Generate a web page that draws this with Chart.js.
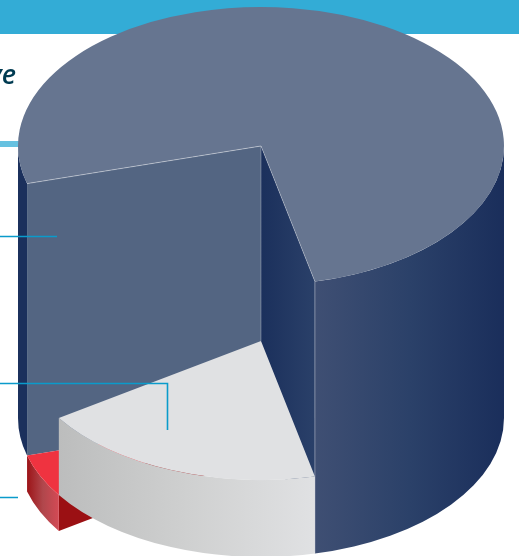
<!DOCTYPE html>
<html>
<head>
<meta charset="utf-8">
<title>3D pie</title>
<script src="https://cdn.jsdelivr.net/npm/chart.js@4"></script>
<style>
    html, body { margin: 0; padding: 0; background: #fff; overflow: hidden; }
    #wrap { position: relative; width: 519px; height: 556px; overflow: hidden; }
    #pie { position: absolute; left: 0; top: 0; }
    #cutTitle {
        position: absolute; right: 503px; top: 55px;
        font: italic 600 27px "Open Sans", sans-serif;
        color: #003b52; white-space: nowrap;
    }
</style>
</head>
<body>
<div id="wrap">
    <canvas id="pie" width="519" height="556"></canvas>
    <div id="cutTitle">ve</div>
</div>
<script>
// ==================== data ====================
const categories = ['Largest share', 'Middle share', 'Smallest share'];
const shareValues = [75.8, 19.2, 5];
const topColors = ['#667590', '#e0e1e3', '#ef3340'];

// ==================== drawing settings ====================
const TOP_Y = 146;            // y of the pie centre on the top face
const SQUASH = 139 / 243;     // ellipse ratio of the tilted disc
const FULL_DEPTH = 272;
const WHITE_DEPTH = 195;      // the middle slice is a lower step
const RED_THICKNESS = 36;     // the small slice hangs below the cylinder

const EDGE = 'rgba(255, 255, 255, 0.28)';

function hGradient(ctx, x0, x1, stops) {
    const g = ctx.createLinearGradient(x0, 0, x1, 0);
    stops.forEach((c, i) => g.addColorStop(i / (stops.length - 1), c));
    return g;
}

function point(arc, angle, depth) {
    return {
        x: arc.x + arc.outerRadius * Math.cos(angle),
        y: TOP_Y + depth + arc.outerRadius * SQUASH * Math.sin(angle)
    };
}

// outer curved wall between two angles
function outerWall(ctx, arc, a0, a1, d0, d1, fill) {
    const rx = arc.outerRadius, ry = rx * SQUASH;
    ctx.beginPath();
    ctx.ellipse(arc.x, TOP_Y + d0, rx, ry, 0, a0, a1, false);
    ctx.ellipse(arc.x, TOP_Y + d1, rx, ry, 0, a1, a0, true);
    ctx.closePath();
    ctx.fillStyle = fill;
    ctx.fill();
}

// flat wall running from the centre out to the rim
function radialWall(ctx, arc, angle, d0, d1, fill) {
    const p = point(arc, angle, 0);
    ctx.beginPath();
    ctx.moveTo(arc.x, TOP_Y + d0);
    ctx.lineTo(p.x, p.y + d0);
    ctx.lineTo(p.x, p.y + d1);
    ctx.lineTo(arc.x, TOP_Y + d1);
    ctx.closePath();
    ctx.fillStyle = fill;
    ctx.fill();
}

// top face: the library's own arc, squashed into an ellipse
function topFace(ctx, arc, depth) {
    ctx.save();
    ctx.translate(arc.x, TOP_Y + depth);
    ctx.scale(1, SQUASH);
    ctx.translate(-arc.x, -arc.y);
    arc.draw(ctx);
    ctx.restore();
}

function edgeLine(ctx, a, b, color) {
    ctx.beginPath();
    ctx.moveTo(a.x, a.y);
    ctx.lineTo(b.x, b.y);
    ctx.strokeStyle = color || EDGE;
    ctx.lineWidth = 1;
    ctx.stroke();
}

const pageFurniture = {
    id: 'pageFurniture',
    beforeDraw(chart) {
        const ctx = chart.ctx;
        ctx.save();
        ctx.fillStyle = '#fff';
        ctx.fillRect(0, 0, chart.width, chart.height);
        ctx.fillStyle = '#33acd6';
        ctx.fillRect(0, 0, chart.width, 34);
        ctx.fillStyle = '#66c1e0';
        ctx.fillRect(0, 141, 20, 6);
        ctx.restore();
    },
    afterDraw(chart) {
        const ctx = chart.ctx;
        ctx.save();
        ctx.strokeStyle = '#0a9bcb';
        ctx.lineWidth = 1.6;
        ctx.beginPath();
        ctx.moveTo(0, 236.5);
        ctx.lineTo(57, 236.5);
        ctx.moveTo(0, 383.5);
        ctx.lineTo(167.5, 383.5);
        ctx.lineTo(167.5, 430);
        ctx.moveTo(0, 497.5);
        ctx.lineTo(18, 497.5);
        ctx.stroke();
        ctx.restore();
    }
};

const pie3d = {
    id: 'pie3d',
    beforeDatasetsDraw(chart) {
        const ctx = chart.ctx;
        const [blue, white, red] = chart.getDatasetMeta(0).data;
        const blueEnd = blue.endAngle - Math.PI * 2;   // wraps past 3 o'clock

        ctx.save();

        // large slice: walls
        const blueRim = point(blue, blueEnd, 0);
        outerWall(ctx, blue, 0, blueEnd, 0, FULL_DEPTH,
            hGradient(ctx, blueRim.x, blue.x + blue.outerRadius, ['#3f4f73', '#2b4169', '#1a2e5b']));
        outerWall(ctx, blue, blue.startAngle, Math.PI, 0, FULL_DEPTH, '#1b305c');
        radialWall(ctx, blue, blue.startAngle, 0, FULL_DEPTH, '#536582');
        radialWall(ctx, blue, blueEnd, 0, FULL_DEPTH,
            hGradient(ctx, blue.x, blueRim.x, ['#1b305c', '#2a4069']));

        // small slice, one step under the cylinder
        const redA = point(red, red.endAngle, 0);
        const redB = point(red, red.startAngle, 0);
        radialWall(ctx, red, red.startAngle, FULL_DEPTH, FULL_DEPTH + RED_THICKNESS, '#9b1013');
        outerWall(ctx, red, red.startAngle, red.endAngle, FULL_DEPTH, FULL_DEPTH + RED_THICKNESS,
            hGradient(ctx, redA.x, redB.x, ['#9c1418', '#b0474c', '#d44a55']));
        topFace(ctx, red, FULL_DEPTH);

        // middle slice, raised to its own step
        const whiteA = point(white, white.endAngle, 0);
        const whiteB = point(white, white.startAngle, 0);
        outerWall(ctx, white, white.startAngle, white.endAngle, WHITE_DEPTH, FULL_DEPTH,
            hGradient(ctx, whiteA.x, whiteB.x, ['#bcbdbd', '#cfd0d0', '#e0e1e3']));
        topFace(ctx, white, WHITE_DEPTH);

        // large slice: top face last
        topFace(ctx, blue, 0);

        // thin light seams
        const centre = { x: blue.x, y: TOP_Y };
        edgeLine(ctx, centre, { x: blue.x, y: TOP_Y + WHITE_DEPTH });
        edgeLine(ctx, { x: blueRim.x, y: blueRim.y }, { x: blueRim.x, y: blueRim.y + FULL_DEPTH }, 'rgba(255,255,255,0.35)');
        edgeLine(ctx, centre, point(blue, blue.startAngle, 0), 'rgba(255,255,255,0.4)');
        edgeLine(ctx, centre, blueRim);

        ctx.restore();
        return false;   // everything is drawn above
    }
};

new Chart(document.getElementById('pie'), {
    type: 'pie',
    data: {
        labels: categories,
        datasets: [{
            data: shareValues,
            backgroundColor: topColors,
            borderWidth: 0,
            hoverOffset: 0
        }]
    },
    options: {
        responsive: false,
        animation: false,
        rotation: 254.3,
        layout: { padding: { left: 18, right: 15 } },
        plugins: {
            legend: { display: false },
            tooltip: { enabled: false }
        }
    },
    plugins: [pageFurniture, pie3d]
});
</script>
</body>
</html>
